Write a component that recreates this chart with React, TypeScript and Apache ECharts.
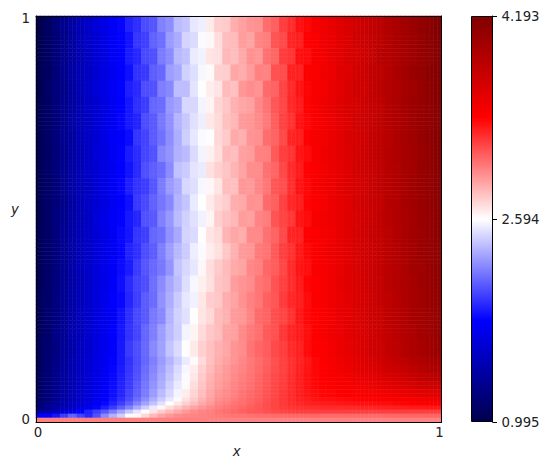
import React, { useEffect, useRef } from "react";
import * as echarts from "echarts";

// Values are in hundredths. Each row has 50 columns, each spanning two cells.
const rowSpans = [4,4,4,4,4,4,4,4,4,4,4,4,4,4,4,4,4,4,4,4,4,2,2,2,2,2,1,1,1,1,1,1];
const rows = [
[100,108,119,129,138,147,155,162,169,176,181,190,194,203,206,220,224,238,241,252,254,266,275,276,285,289,293,294,305,309,320,325,334,337,345,348,354,358,364,367,373,378,383,388,393,397,402,407,412,418],
[101,109,118,127,136,146,154,160,168,175,180,185,196,199,210,214,228,233,246,248,258,262,270,280,281,290,288,298,300,313,316,328,330,340,342,349,352,359,362,368,372,377,382,387,392,396,401,406,411,417],
[102,110,120,128,137,145,153,161,166,174,179,188,191,202,204,218,223,237,240,253,255,268,269,282,280,286,294,292,304,307,321,323,335,336,344,347,353,357,363,366,371,376,384,386,391,395,400,405,410,416],
[103,109,119,129,138,147,152,160,167,173,178,184,195,197,209,212,229,232,245,249,257,261,274,275,287,285,290,299,298,314,315,329,329,341,341,348,351,358,361,367,372,378,381,385,392,396,402,406,411,416],
[102,111,121,127,136,146,154,162,168,175,180,189,192,204,205,219,222,239,239,251,259,265,268,281,279,292,295,293,306,308,318,326,333,338,343,346,352,356,362,368,370,377,382,387,390,395,399,404,410,415],
[103,110,120,128,137,145,153,159,166,174,179,186,194,198,211,213,227,231,247,247,256,263,273,277,284,287,289,297,303,312,317,327,331,339,344,349,353,358,363,366,371,376,380,386,391,396,401,405,409,415],
[104,112,119,129,138,147,152,161,167,173,181,187,190,203,207,217,225,236,242,250,254,267,271,279,282,291,292,296,301,310,319,324,334,337,342,347,351,357,361,367,372,375,381,385,390,394,400,404,409,414],
[103,111,121,130,136,146,154,160,168,175,178,183,196,200,208,215,224,234,244,252,258,260,272,276,286,284,293,294,305,308,316,328,330,340,345,346,352,356,362,365,370,376,380,384,391,395,399,405,409,415],
[104,110,120,128,137,145,153,162,166,174,180,188,193,201,205,221,226,235,238,248,256,264,270,281,280,289,290,299,299,311,320,323,333,336,343,348,353,357,361,366,371,375,381,386,390,394,399,403,408,414],
[105,112,121,129,138,147,155,159,167,173,179,185,192,204,209,213,223,240,243,251,253,269,274,278,283,288,295,295,304,307,317,326,331,339,342,346,351,355,360,367,370,374,379,385,389,395,398,404,408,413],
[104,111,119,130,139,146,152,161,168,175,181,189,195,198,206,218,228,233,247,249,257,262,268,280,279,292,291,297,302,312,315,325,334,337,344,347,350,356,361,365,369,375,380,384,389,393,399,403,408,413],
[105,113,120,128,137,148,154,160,166,174,178,184,197,202,210,216,222,236,241,253,259,266,272,275,285,286,294,293,306,309,319,327,330,338,341,345,351,355,359,366,370,374,378,385,388,394,398,402,407,412],
[104,112,122,129,138,146,153,162,169,176,180,187,191,205,207,220,227,238,245,250,255,263,275,279,282,290,289,298,300,313,318,322,333,336,343,347,350,354,360,364,369,373,379,384,389,393,397,403,406,412],
[106,111,121,131,139,147,155,161,167,175,182,186,196,199,211,214,225,232,246,248,260,268,271,283,287,285,296,296,304,308,316,328,329,340,342,345,349,355,359,365,368,374,378,383,388,392,398,401,406,411],
[105,113,120,130,138,148,154,163,168,174,181,190,194,203,208,219,229,237,243,254,258,265,269,277,284,291,292,301,303,311,320,324,332,337,341,346,350,354,358,364,369,373,377,383,387,393,396,402,405,410],
[106,112,122,129,140,149,156,162,170,176,183,188,198,206,212,217,226,241,247,252,262,270,276,281,286,288,297,299,307,310,317,326,333,335,342,344,349,353,359,363,368,372,378,382,386,391,397,400,405,409],
[105,114,121,131,139,147,155,164,169,177,184,193,200,204,214,223,232,239,249,257,264,269,278,280,290,293,295,303,305,313,319,325,331,338,340,345,348,354,358,362,367,372,376,382,387,390,395,400,403,408],
[107,113,123,130,141,149,157,163,171,178,182,191,199,208,213,225,234,243,252,255,267,275,277,285,288,294,299,302,309,312,321,327,330,336,341,343,349,352,357,362,366,370,376,380,385,390,394,398,403,407],
[106,115,122,132,140,150,156,165,170,176,185,194,202,207,217,222,236,245,250,260,268,272,281,284,291,292,298,306,308,315,318,324,332,337,339,344,347,353,356,361,366,371,374,380,384,388,394,397,401,406],
[107,114,124,131,142,149,158,164,172,179,186,195,201,211,219,229,238,244,256,263,271,277,280,288,289,296,301,304,311,314,322,328,331,335,340,343,348,351,356,360,364,369,374,378,383,387,391,396,400,404],
[108,116,123,133,141,151,157,166,173,178,187,198,204,212,222,230,241,248,259,266,274,279,284,287,293,295,303,307,310,316,320,326,329,336,339,342,346,351,355,359,364,368,372,377,381,386,390,394,398,402],
[108,117,125,134,143,151,159,166,173,180,187,195,203,211,219,228,236,244,253,261,271,279,285,289,293,297,301,305,309,314,319,324,328,332,337,341,345,348,352,356,360,364,368,373,377,381,385,389,393,396],
[109,117,126,134,144,152,160,167,174,181,188,196,204,213,221,230,239,248,257,265,274,281,287,291,295,298,302,306,310,315,319,324,329,333,337,340,344,347,350,354,358,361,365,369,372,376,380,384,388,391],
[109,118,127,135,144,152,160,168,175,182,189,197,205,214,223,232,241,250,258,267,276,283,289,292,296,300,303,307,311,316,320,325,330,334,337,340,343,345,348,351,354,357,360,363,367,370,374,378,381,384],
[110,119,128,136,145,153,161,169,176,183,190,198,207,216,225,234,244,253,261,270,278,285,290,294,298,301,304,308,312,317,321,326,330,334,337,339,341,343,345,347,349,351,354,357,360,362,365,368,371,373],
[111,120,129,137,146,154,162,170,177,184,191,200,209,218,228,238,247,256,265,273,280,287,293,296,299,303,306,309,313,317,322,326,330,333,335,337,338,340,341,342,344,345,347,349,351,352,354,356,358,360],
[113,122,131,139,148,156,164,172,179,186,194,203,213,223,233,243,252,261,269,276,283,289,295,298,301,304,307,310,314,318,322,326,329,331,333,334,335,336,337,338,339,340,341,342,343,344,345,346,348,350],
[116,124,133,142,150,158,167,175,182,190,199,209,220,230,240,250,259,267,274,280,286,291,297,300,303,305,308,311,315,318,322,325,327,329,330,331,331,332,333,334,334,335,336,336,337,338,339,340,341,342],
[122,129,138,146,154,163,172,181,189,198,209,220,232,243,253,262,270,277,283,288,292,296,300,303,305,307,310,312,315,318,321,323,324,325,325,326,326,326,327,327,328,328,329,329,330,330,331,331,332,332],
[135,142,150,160,170,180,190,199,207,218,230,241,251,260,268,275,281,286,291,295,298,300,303,305,307,309,311,312,314,316,318,319,320,320,320,320,320,320,320,320,320,320,320,320,320,320,320,320,320,320],
[178,180,186,198,210,200,192,205,222,235,244,258,262,272,282,288,292,295,297,298,299,300,301,302,303,303,304,305,305,306,306,307,307,307,307,306,306,306,306,306,306,306,306,307,307,307,307,307,308,308],
[299,299,299,299,299,299,299,299,299,299,299,299,299,299,299,299,299,299,299,299,299,299,299,299,299,299,299,299,299,299,299,299,299,299,299,299,299,299,299,299,299,299,299,299,299,299,299,299,299,299],
];
const xTicks = ["0", "1"];
const yTicks = ["0", "1"];
const colorTicks = [0.995, 2.594, 4.193];
const seismic = ["#00004d", "#0000ff", "#ffffff", "#ff0000", "#800000"];

const font = "DejaVu Sans";
const fs = 13.3;
const cellCats = Array.from({ length: 100 }, (_, i) => String(i));

function buildData() {
  const out: number[][] = [];
  let row = 99;
  rows.forEach((vals, k) => {
    for (let s = 0; s < rowSpans[k]; s++) {
      vals.forEach((v, c) => {
        out.push([c * 2, row, v / 100]);
        out.push([c * 2 + 1, row, v / 100]);
      });
      row--;
    }
  });
  return out;
}

const edgeLabel = (t: string[]) => ({
  interval: (i: number) => i === 0 || i === 99,
  formatter: (_: string, i: number) => (i === 0 ? t[0] : t[1]),
  color: "#222",
  fontFamily: font,
  fontSize: fs,
});
const frame = { show: true, onZero: false, lineStyle: { color: "#000", width: 1 } };

export default function App() {
  const ref = useRef<HTMLDivElement>(null);
  useEffect(() => {
    const chart = echarts.init(ref.current!, undefined, { renderer: "svg" });
    chart.setOption({
      animation: false,
      backgroundColor: "#fff",
      grid: [
        { left: 36, top: 16, width: 405.5, height: 406 },
        { left: 471.5, top: 16, width: 21, height: 406 },
      ],
      xAxis: [
        { type: "category", data: cellCats, position: "bottom", gridIndex: 0, z: 10, axisLine: frame, axisTick: { show: false }, splitLine: { show: false },
          axisLabel: { ...edgeLabel(xTicks), margin: 4 },
          name: "x", nameLocation: "middle", nameGap: 23, nameTextStyle: { fontFamily: font, fontSize: fs, fontStyle: "italic", color: "#222", padding: [0, 4, 0, 0] } },
        { type: "category", data: cellCats, position: "top", gridIndex: 0, z: 10, axisLine: frame, axisTick: { show: false }, axisLabel: { show: false }, splitLine: { show: false } },
        { type: "category", data: ["a"], position: "bottom", gridIndex: 1, show: false },
      ],
      yAxis: [
        { type: "category", data: cellCats, position: "left", gridIndex: 0, z: 10, axisLine: frame, axisTick: { show: false }, splitLine: { show: false },
          axisLabel: { ...edgeLabel(yTicks), margin: 6 } },
        { type: "category", data: cellCats, position: "right", gridIndex: 0, z: 10, axisLine: frame, axisTick: { show: false }, axisLabel: { show: false }, splitLine: { show: false } },
        { type: "value", gridIndex: 1, position: "right", min: colorTicks[0], max: colorTicks[2], z: 10,
          axisLine: frame, splitLine: { show: false },
          axisTick: { show: true, length: 4.5, customValues: colorTicks, lineStyle: { color: "#000" } },
          axisLabel: { customValues: colorTicks, margin: 9, formatter: (v: number) => v.toFixed(3), color: "#222", fontFamily: font, fontSize: fs } },
      ],
      visualMap: {
        type: "continuous", seriesIndex: 0, min: colorTicks[0], max: colorTicks[2],
        left: 471.5, top: 16, itemWidth: 21, itemHeight: 406, padding: 0, calculable: false, text: [],
        inRange: { color: seismic },
      },
      graphic: [
        { type: "rect", z: 20, shape: { x: 471.5, y: 16.5, width: 21, height: 405 }, style: { fill: "transparent", stroke: "#000", lineWidth: 1 } },
        { type: "text", z: 20, x: 15, y: 209, style: { text: "y", fontFamily: font, fontSize: fs, fontStyle: "italic", fill: "#222", align: "center", verticalAlign: "middle" } },
      ],
      series: [{ type: "heatmap", xAxisIndex: 0, yAxisIndex: 0, data: buildData(), progressive: 0, itemStyle: { borderWidth: 0 } }],
    });
    return () => chart.dispose();
  }, []);
  return <div ref={ref} style={{ width: 551, height: 470, position: "absolute", left: 0, top: 0 }} />;
}
